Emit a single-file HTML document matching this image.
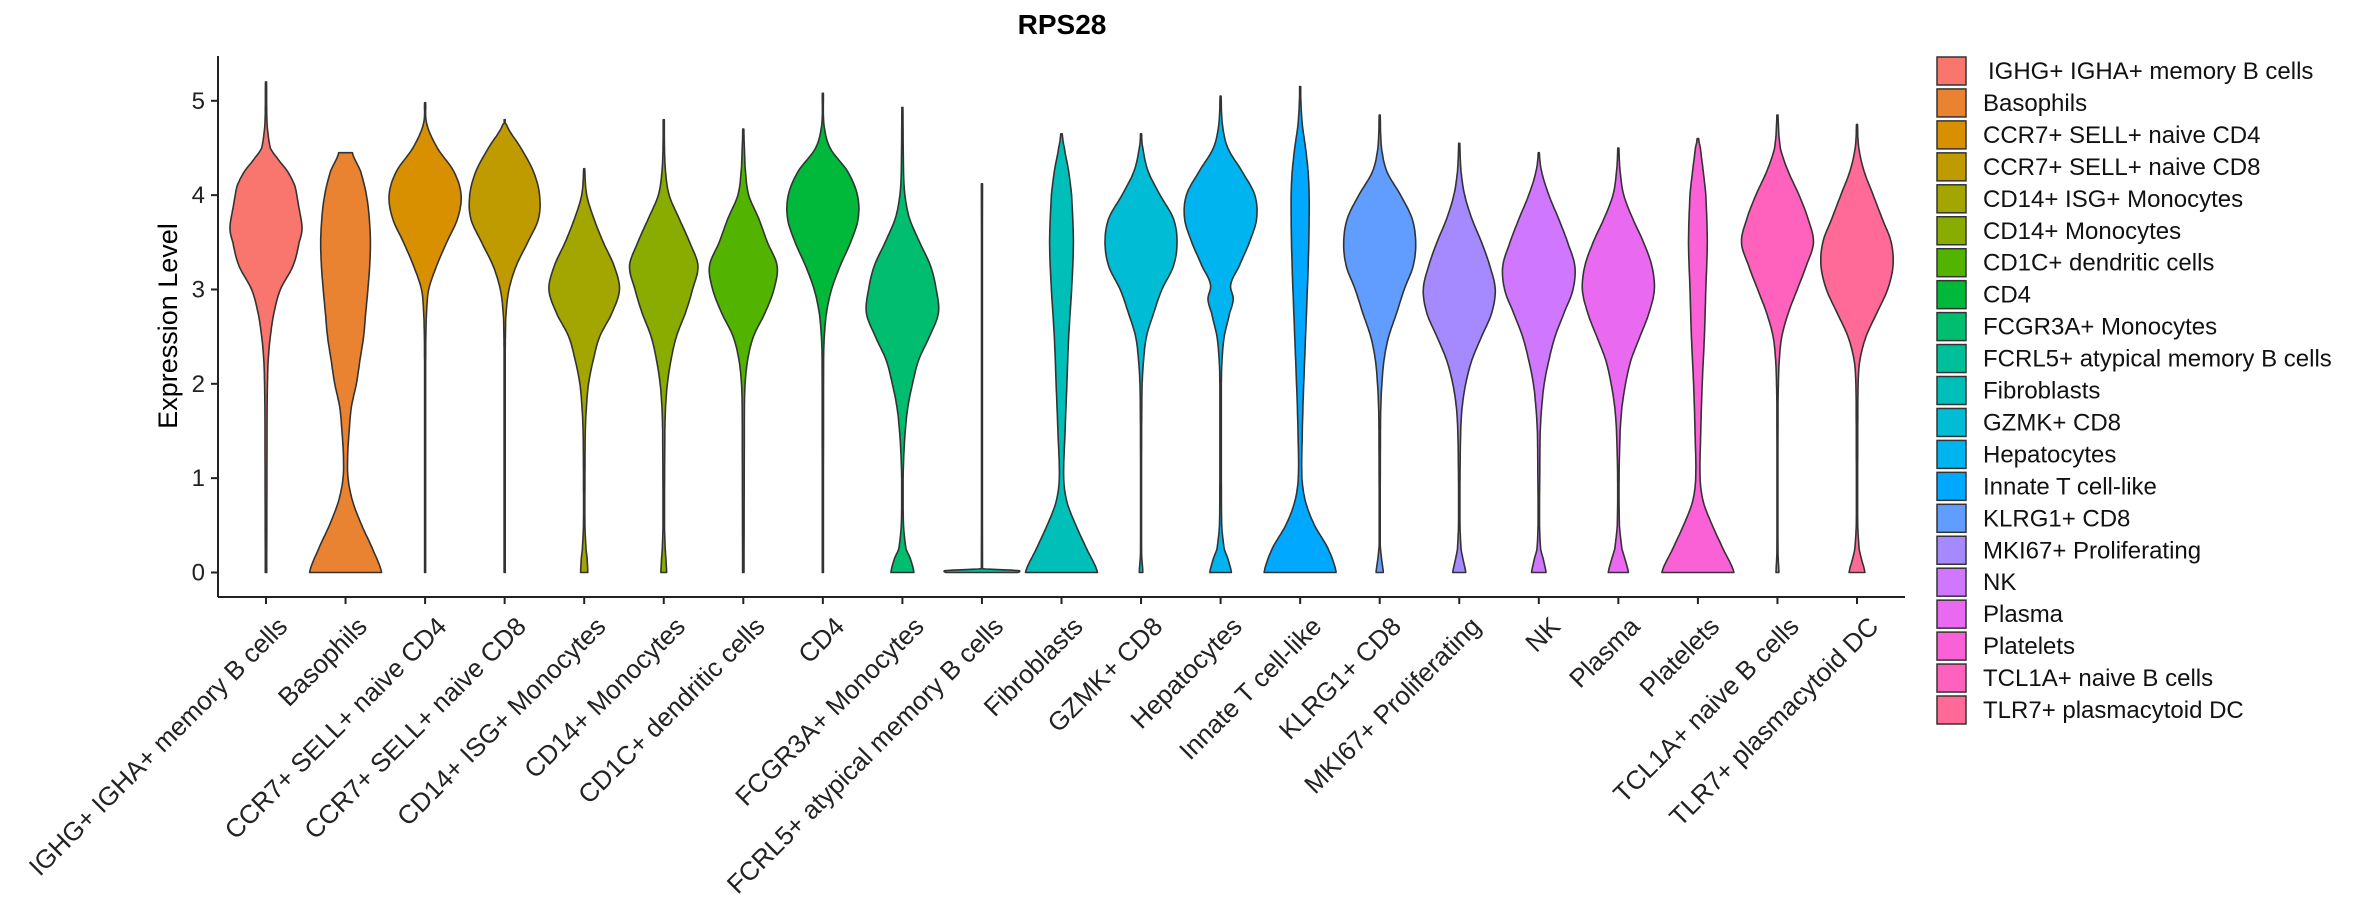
<!DOCTYPE html>
<html><head><meta charset="utf-8"><style>
html,body{margin:0;padding:0;background:#fff;}
svg{display:block;font-family:"Liberation Sans",sans-serif;}
</style></head><body>
<svg id="chart" width="2362" height="900" viewBox="0 0 2362 900">
<text x="1062" y="34" text-anchor="middle" font-size="28" font-weight="bold">RPS28</text>
<text transform="translate(177,326) rotate(-90)" text-anchor="middle" font-size="27">Expression Level</text>
<g id="yaxis"></g>
<g id="violins"></g>
<g id="xaxis"></g>
<g id="legend"></g>
</svg>
<script>
const categories = ["IGHG+ IGHA+ memory B cells","Basophils","CCR7+ SELL+ naive CD4","CCR7+ SELL+ naive CD8","CD14+ ISG+ Monocytes","CD14+ Monocytes","CD1C+ dendritic cells","CD4","FCGR3A+ Monocytes","FCRL5+ atypical memory B cells","Fibroblasts","GZMK+ CD8","Hepatocytes","Innate T cell-like","KLRG1+ CD8","MKI67+ Proliferating","NK","Plasma","Platelets","TCL1A+ naive B cells","TLR7+ plasmacytoid DC"];
const colors = ["#F8766D","#EA8331","#D89000","#C09B00","#A3A500","#8AAB00","#53B400","#00B83A","#00BD6F","#00C09A","#00BFB8","#00BCD4","#00B4EF","#00A9FF","#619CFF","#A58AFF","#CF78FF","#E96AF0","#FB61D7","#FF62BC","#FF6A98"];
const yTicks = [0,1,2,3,4,5];
const maxValues = [5.2,4.45,4.98,4.8,4.28,4.8,4.7,5.08,4.93,4.12,4.65,4.65,5.05,5.15,4.85,4.55,4.45,4.5,4.6,4.85,4.75];
// density profiles: [value, relative half-width]
const profiles = [
 [[0,0.02],[1.75,0.03],[2,0.04],[2.25,0.06],[2.5,0.12],[2.75,0.22],[3,0.4],[3.25,0.75],[3.5,0.92],[3.65,1],[3.9,0.9],[4.1,0.8],[4.25,0.6],[4.4,0.3],[4.5,0.12],[4.75,0.03],[5.2,0.015]],
 [[0,1],[0.25,0.75],[0.5,0.45],[0.75,0.2],[1,0.07],[1.25,0.06],[1.5,0.1],[1.75,0.16],[2,0.3],[2.25,0.4],[2.5,0.5],[2.75,0.56],[3,0.62],[3.25,0.67],[3.5,0.69],[3.75,0.66],[4,0.58],[4.25,0.42],[4.45,0.19]],
 [[0,0.015],[2.25,0.015],[2.5,0.02],[2.75,0.04],[3,0.1],[3.25,0.32],[3.5,0.6],[3.75,0.9],[4,1],[4.25,0.8],[4.5,0.34],[4.75,0.05],[4.98,0.015]],
 [[0,0.015],[2.25,0.015],[2.5,0.02],[2.75,0.04],[3,0.12],[3.25,0.32],[3.5,0.64],[3.75,0.94],[4,0.97],[4.25,0.8],[4.5,0.45],[4.75,0.05],[4.8,0.015]],
 [[0,0.1],[0.15,0.08],[0.25,0.05],[0.5,0.02],[1,0.02],[1.5,0.03],[1.75,0.06],[2,0.12],[2.25,0.25],[2.5,0.43],[2.75,0.77],[3,0.98],[3.25,0.83],[3.5,0.53],[3.75,0.27],[4,0.07],[4.28,0.015]],
 [[0,0.08],[0.15,0.06],[0.25,0.04],[0.5,0.02],[1.5,0.03],[1.75,0.05],[2,0.1],[2.25,0.2],[2.5,0.35],[2.75,0.6],[3,0.8],[3.25,0.95],[3.5,0.72],[3.75,0.43],[4,0.15],[4.25,0.05],[4.5,0.02],[4.8,0.015]],
 [[0,0.02],[1.75,0.03],[2,0.05],[2.25,0.12],[2.5,0.28],[2.75,0.6],[3,0.85],[3.25,0.94],[3.5,0.67],[3.75,0.43],[4,0.15],[4.25,0.06],[4.5,0.03],[4.7,0.015]],
 [[0,0.015],[2.25,0.02],[2.5,0.04],[2.75,0.1],[3,0.24],[3.25,0.48],[3.5,0.77],[3.75,0.98],[4,0.96],[4.25,0.69],[4.5,0.2],[4.75,0.03],[5.08,0.015]],
 [[0,0.32],[0.15,0.22],[0.25,0.1],[0.5,0.03],[1,0.02],[1.25,0.04],[1.5,0.08],[1.75,0.15],[2,0.28],[2.25,0.45],[2.5,0.75],[2.75,1],[3,0.94],[3.25,0.78],[3.5,0.48],[3.75,0.2],[4,0.07],[4.25,0.03],[4.93,0.015]],
 [[0,1],[0.02,1],[0.04,0.015],[4.12,0.015]],
 [[0,1],[0.25,0.7],[0.5,0.4],[0.75,0.15],[1,0.06],[1.5,0.1],[2,0.15],[2.5,0.2],[3,0.28],[3.5,0.33],[4,0.28],[4.25,0.2],[4.5,0.08],[4.65,0.02]],
 [[0,0.05],[0.2,0.015],[1.5,0.015],[2,0.03],[2.25,0.07],[2.5,0.15],[2.75,0.35],[3,0.58],[3.25,0.9],[3.5,1],[3.75,0.9],[4,0.53],[4.25,0.2],[4.5,0.05],[4.65,0.015]],
 [[0,0.3],[0.15,0.2],[0.25,0.1],[0.5,0.03],[1.5,0.02],[2,0.02],[2.25,0.04],[2.5,0.1],[2.75,0.25],[2.9,0.35],[3.05,0.28],[3.25,0.52],[3.5,0.8],[3.75,1],[4,0.95],[4.25,0.6],[4.5,0.2],[4.75,0.05],[5.05,0.015]],
 [[0,1],[0.25,0.78],[0.5,0.4],[0.75,0.15],[1,0.05],[1.5,0.06],[2,0.1],[2.5,0.15],[3,0.2],[3.5,0.24],[4,0.25],[4.25,0.22],[4.5,0.15],[4.75,0.06],[5,0.02],[5.15,0.015]],
 [[0,0.1],[0.15,0.05],[0.3,0.015],[1.5,0.02],[1.75,0.03],[2,0.06],[2.25,0.12],[2.5,0.25],[2.75,0.47],[3,0.68],[3.25,0.93],[3.5,1],[3.75,0.9],[4,0.58],[4.25,0.2],[4.5,0.05],[4.85,0.015]],
 [[0,0.18],[0.15,0.1],[0.25,0.05],[0.5,0.02],[1,0.02],[1.5,0.04],[1.75,0.08],[2,0.18],[2.25,0.35],[2.5,0.62],[2.75,0.9],[3,1],[3.25,0.85],[3.5,0.62],[3.75,0.35],[4,0.15],[4.25,0.05],[4.55,0.015]],
 [[0,0.2],[0.15,0.12],[0.25,0.05],[0.5,0.02],[1.25,0.03],[1.5,0.04],[1.75,0.08],[2,0.15],[2.25,0.28],[2.5,0.45],[2.75,0.7],[3,0.95],[3.25,1],[3.5,0.8],[3.75,0.55],[4,0.28],[4.25,0.08],[4.45,0.015]],
 [[0,0.28],[0.15,0.18],[0.25,0.1],[0.5,0.03],[1,0.02],[1.5,0.05],[1.75,0.1],[2,0.2],[2.25,0.35],[2.5,0.6],[2.75,0.85],[3,1],[3.25,0.93],[3.5,0.7],[3.75,0.4],[4,0.15],[4.25,0.05],[4.5,0.015]],
 [[0,1],[0.25,0.7],[0.5,0.4],[0.75,0.15],[1,0.06],[1.5,0.08],[2,0.12],[2.5,0.18],[3,0.22],[3.5,0.26],[4,0.22],[4.25,0.15],[4.5,0.07],[4.6,0.02]],
 [[0,0.04],[0.2,0.015],[1.75,0.015],[2,0.025],[2.25,0.05],[2.5,0.12],[2.75,0.3],[3,0.55],[3.25,0.8],[3.5,1],[3.75,0.85],[4,0.6],[4.25,0.3],[4.5,0.08],[4.85,0.015]],
 [[0,0.22],[0.15,0.12],[0.25,0.06],[0.5,0.02],[1.5,0.02],[2,0.03],[2.25,0.08],[2.5,0.25],[2.75,0.55],[3,0.85],[3.25,1],[3.5,0.95],[3.75,0.7],[4,0.45],[4.25,0.2],[4.5,0.05],[4.75,0.015]]
];

const NS = "http://www.w3.org/2000/svg";
const X0 = 266, STEP = 79.55, HALFW = 36;
const Y0 = 572.5, YUNIT = 94.34;
function xScale(i){ return X0 + i*STEP; }
function yScale(v){ return Y0 - v*YUNIT; }
function mk(tag, attrs, parent){ const e=document.createElementNS(NS,tag); for(const k in attrs) e.setAttribute(k,attrs[k]); parent.appendChild(e); return e; }
// Catmull-Rom densify of a profile
function smooth(prof){
  const out=[];
  for(let k=0;k<prof.length-1;k++){
    const p0=prof[Math.max(0,k-1)], p1=prof[k], p2=prof[k+1], p3=prof[Math.min(prof.length-1,k+2)];
    const n=8;
    for(let s=0;s<n;s++){
      const t=s/n, t2=t*t, t3=t2*t;
      const f=(a,b,c,d)=>0.5*((2*b)+(-a+c)*t+(2*a-5*b+4*c-d)*t2+(-a+3*b-3*c+d)*t3);
      let v=p1[0]+(p2[0]-p1[0])*t;
      let w=f(p0[1],p1[1],p2[1],p3[1]);
      w=Math.max(0.012,Math.min(w,Math.max(p1[1],p2[1])*1.05));
      out.push([v,w]);
    }
  }
  out.push(prof[prof.length-1]);
  return out;
}

// y axis
const yg = document.getElementById('yaxis');
const yl = mk('line',{x1:218,y1:56,x2:218,y2:597,stroke:'#222','stroke-width':2},yg);


yTicks.forEach(t=>{
  const tk = mk('line',{x1:211,x2:218,y1:yScale(t),y2:yScale(t),stroke:'#222','stroke-width':2},yg);
  
  
  const lb = mk('text',{x:205,y:yScale(t)+8,'text-anchor':'end','font-size':24,fill:'#222'},yg);
  lb.textContent = t;
  
  
});

// violins
const vg = document.getElementById('violins');
categories.forEach((c,i)=>{
  const prof = smooth(profiles[i]);
  const cx = xScale(i);
  const right = prof.map(p=>[cx + p[1]*HALFW, yScale(p[0])]);
  const left = prof.slice().reverse().map(p=>[cx - p[1]*HALFW, yScale(p[0])]);
  const pts = right.concat(left);
  let d = 'M' + pts.map(p=>p[0].toFixed(1)+','+p[1].toFixed(1)).join(' L') + ' Z';
  const path = mk('path',{d:d,fill:colors[i],stroke:'#333','stroke-width':1.6,'stroke-linejoin':'round'},vg);
  
  
});

// x axis
const xg = document.getElementById('xaxis');
const xl = mk('line',{x1:218,y1:597,x2:1905,y2:597,stroke:'#222','stroke-width':2},xg);


categories.forEach((c,i)=>{
  const x = xScale(i);
  const tk = mk('line',{x1:x,x2:x,y1:597,y2:604,stroke:'#222','stroke-width':2},xg);
  
  
  const lb = mk('text',{transform:'translate('+(x+23)+',628) rotate(-45)','text-anchor':'end','font-size':26,fill:'#222'},xg);
  lb.textContent = c;
  
  
});

// legend
const lg = document.getElementById('legend');
categories.forEach((c,i)=>{
  const cy = 71 + i*31.95;
  const r = mk('rect',{x:1937,y:cy-14,width:29,height:28,fill:colors[i],stroke:'#333','stroke-width':1.5},lg);
  
  
  const t = mk('text',{x:(i===0?1988:1983),y:cy+8,'font-size':24,fill:'#111'},lg);
  t.textContent = c;
  
  
});
</script>
</body></html>
